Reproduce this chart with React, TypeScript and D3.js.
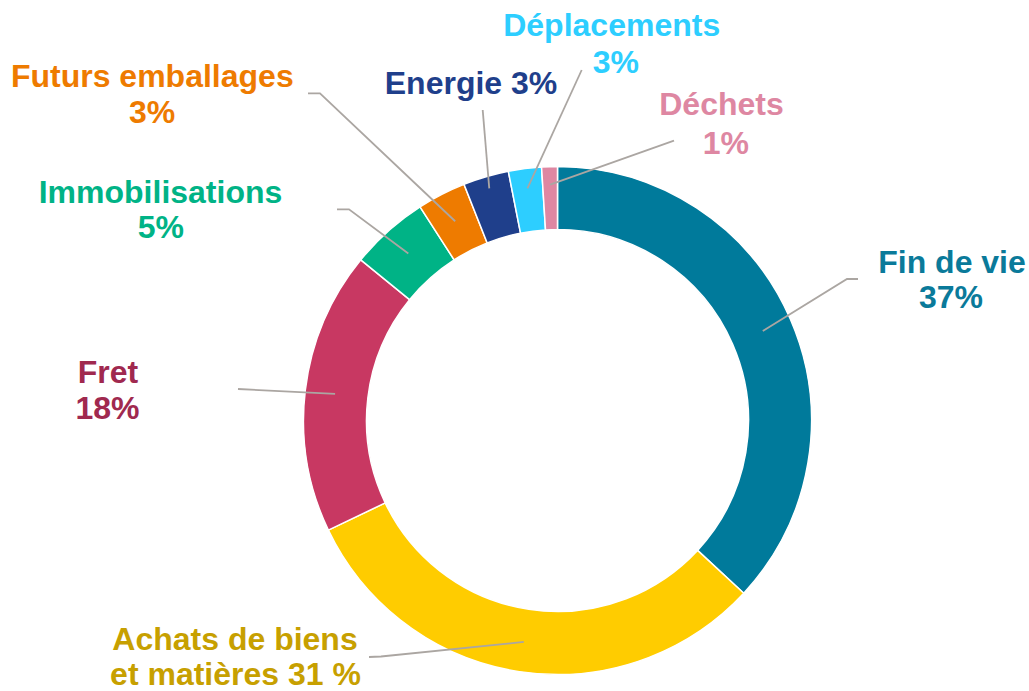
import React from "react";
import * as d3 from "d3";

// ---- data ----
const categories = [
  "Fin de vie",
  "Achats de biens et matières",
  "Fret",
  "Immobilisations",
  "Futurs emballages",
  "Energie",
  "Déplacements",
  "Déchets",
];
const values = [36.9, 31.0, 18.0, 5.0, 3.1, 2.9, 2.1, 1.0];
const labelTexts = [
  ["Fin de vie", "37%"],
  ["Achats de biens", "et matières 31 %"],
  ["Fret", "18%"],
  ["Immobilisations", "5%"],
  ["Futurs emballages", "3%"],
  ["Energie 3%"],
  ["Déplacements", "3%"],
  ["Déchets", "1%"],
];
const sliceColors = ["#007A9B", "#FFCC00", "#C83862", "#00B386", "#EE7B00", "#1F3F8B", "#2DCEFF", "#DE87A2"];
const textColors = ["#0A7A9A", "#C7A000", "#A0294F", "#00B386", "#EE7B00", "#1F3F8B", "#2DCEFF", "#DE87A2"];

// ---- layout ----
const W = 1029;
const H = 691;
const CX = 557.5;
const CY = 420.5;
const R_OUT = 254;
const R_IN = 191;
// label line positions: [centerX, baselineY] for each text line
const labelPos = [
  [[952, 273], [951, 308]],
  [[235, 650], [235.5, 685]],
  [[108, 383], [107.5, 419]],
  [[160.5, 203], [160.8, 238]],
  [[152.3, 87], [152, 122.5]],
  [[471, 94]],
  [[611.7, 36], [615.8, 73]],
  [[721.5, 115], [725.8, 154]],
];
// leader lines: radius of the ring end + outer points (from label side to ring)
const leaders = [
  { r: 224, pts: [[858, 279], [847, 279]] },
  { r: 224, pts: [[369, 657], [381, 656.5]] },
  { r: 224, pts: [[238, 389]] },
  { r: 224, pts: [[337, 209.3], [349, 209.3]] },
  { r: 224, pts: [[308, 93.3], [320, 93.3]] },
  { r: 242, pts: [[482.7, 110]] },
  { r: 234, pts: [[581.7, 70]] },
  { r: 236, pts: [[674, 140.7]] },
];

export default function App() {
  const pie = d3
    .pie<number>()
    .sort(null)
    .value((d) => d)
    .startAngle(0)
    .endAngle(2 * Math.PI);
  const arcs = pie(values);
  const arc = d3.arc<d3.PieArcDatum<number>>().innerRadius(R_IN).outerRadius(R_OUT);
  const line = d3.line();

  return (
    <svg
      width={W}
      height={H}
      viewBox={`0 0 ${W} ${H}`}
      style={{ position: "absolute", left: 0, top: 0, background: "#fff" }}
      fontFamily="'Liberation Sans', Arial, sans-serif"
    >
      <g transform={`translate(${CX},${CY})`}>
        {arcs.map((a, i) => (
          <path key={categories[i]} d={arc(a) || ""} fill={sliceColors[i]} stroke="#fff" strokeWidth={1.5} />
        ))}
      </g>
      {arcs.map((a, i) => {
        const mid = (a.startAngle + a.endAngle) / 2;
        const lr = leaders[i];
        const inner: [number, number] = [CX + lr.r * Math.sin(mid), CY - lr.r * Math.cos(mid)];
        const pts = [...(lr.pts as [number, number][]), inner];
        return (
          <path
            key={"l" + i}
            d={line(pts) || ""}
            fill="none"
            stroke="#ABA6A2"
            strokeWidth={1.8}
          />
        );
      })}
      {labelTexts.map((lines, i) =>
        lines.map((t, j) => (
          <text
            key={`t${i}-${j}`}
            x={labelPos[i][j][0]}
            y={labelPos[i][j][1]}
            textAnchor="middle"
            fontSize={32}
            fontWeight="bold"
            fill={textColors[i]}
          >
            {t}
          </text>
        ))
      )}
    </svg>
  );
}
